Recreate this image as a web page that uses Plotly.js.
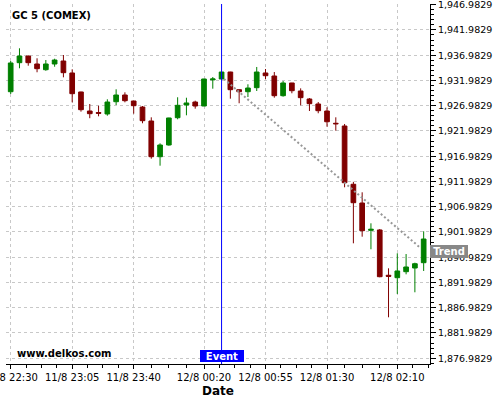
<!DOCTYPE html>
<html><head><meta charset="utf-8">
<script src="https://cdn.plot.ly/plotly-3.0.1.min.js"></script>
<style>html,body{margin:0;padding:0;background:#fff}#chart{width:500px;height:400px}</style>
</head><body><div id="chart"></div>
<script>
const times = ['22:30','22:35','22:40','22:45','22:50','22:55','23:00','23:05','23:10','23:15','23:20','23:25','23:30','23:35','23:40','23:45','23:50','23:55',
  '00:00','00:05','00:10','00:15','00:20','00:25','00:30','00:35','00:40','00:45','00:50','00:55','01:00','01:05','01:10','01:15','01:20','01:25',
  '01:30','01:35','01:40','01:45','01:50','01:55','02:00','02:05','02:10','02:15','02:20','02:25'];
const openV  = [1929.75,1935.50,1936.82,1935.24,1934.11,1935.24,1935.83,1933.46,1929.70,1925.93,1925.62,1925.34,1927.77,1929.10,1927.91,1926.72,1923.95,1916.88,
  1919.20,1924.60,1927.12,1927.71,1926.92,1932.10,1932.27,1933.65,1930.15,1929.75,1930.55,1933.46,1932.86,1928.96,1931.48,1929.89,1928.31,1927.32,
  1925.93,1923.50,1922.96,1911.42,1907.71,1902.30,1902.37,1893.40,1892.92,1894.11,1894.84,1895.89];
const highV  = [1935.83,1938.35,1936.90,1936.37,1936.03,1936.29,1937.02,1934.19,1929.75,1927.32,1926.98,1928.25,1930.23,1929.63,1927.95,1926.92,1924.68,1919.53,
  1924.60,1928.65,1928.56,1927.97,1932.30,1932.66,1933.70,1933.70,1930.20,1931.22,1934.65,1934.25,1933.65,1931.87,1931.50,1930.42,1928.50,1927.71,
  1926.67,1924.68,1923.36,1911.90,1909.83,1903.69,1902.56,1894.78,1897.75,1897.61,1895.89,1902.11];
const lowV   = [1929.30,1934.39,1934.90,1933.60,1933.90,1934.70,1932.60,1927.65,1925.80,1924.50,1924.88,1925.00,1927.12,1927.65,1925.40,1923.50,1916.49,1915.10,
  1919.06,1924.29,1925.08,1926.39,1926.90,1930.35,1932.20,1928.37,1927.46,1928.70,1929.89,1932.21,1928.57,1928.77,1929.44,1927.06,1925.93,1925.48,
  1922.82,1922.03,1910.82,1899.73,1901.04,1898.55,1893.00,1885.08,1889.70,1893.59,1890.03,1894.25];
const closeV = [1935.44,1936.82,1935.50,1934.31,1935.24,1936.03,1933.52,1929.36,1926.19,1925.40,1925.48,1927.71,1929.10,1927.97,1926.98,1924.01,1916.88,1919.20,
  1924.55,1927.06,1927.52,1926.92,1932.27,1932.27,1933.65,1930.15,1929.75,1930.48,1933.65,1932.92,1928.96,1931.48,1929.95,1928.57,1927.38,1925.99,
  1923.80,1923.40,1911.73,1907.77,1902.23,1902.50,1893.12,1893.20,1894.25,1895.04,1895.69,1900.58];
const tickTimes  = ['22:30','23:05','23:40','00:20','00:55','01:30','02:10'];
const tickLabels = ['11/8 22:30','11/8 23:05','11/8 23:40','12/8 00:20','12/8 00:55','12/8 01:30','12/8 02:10'];
const yTicks = [1876.9829,1881.9829,1886.9829,1891.9829,1896.9829,1901.9829,1906.9829,1911.9829,1916.9829,1921.9829,1926.9829,1931.9829,1936.9829,1941.9829,1946.9829];
const eventTime = '00:30';
const trendTimes = ['00:31:24','02:23:00'];
const trendValues = [1932.27, 1898.86];
const trendLabelValue = 1898.11;

function toDate(t){ return (t >= '12:00' ? '2023-08-11 ' : '2023-08-12 ') + (t.length === 5 ? t + ':00' : t); }
function toMs(s){ return Date.parse(s.replace(' ', 'T') + 'Z'); }
function msToStr(ms){ return new Date(ms).toISOString().replace('T',' ').slice(0,19); }

const x = times.map(toDate);
const majorMs = tickTimes.map(t => toMs(toDate(t)));
const minorX = [];
for (let i = 0; i < majorMs.length; i++) {
  const step = i < majorMs.length - 1 ? (majorMs[i+1] - majorMs[i]) / 4 : (majorMs[1] - majorMs[0]) / 4;
  for (let k = 1; k < 4; k++) minorX.push(msToStr(majorMs[i] + k * step));
}
minorX.unshift(msToStr(majorMs[0] - (majorMs[1]-majorMs[0])/4));

const traces = [
  {type:'scatter', mode:'lines', x: trendTimes.map(toDate), y: trendValues,
   line:{color:'#979797', width:2, dash:'2px,2.4px'}, hoverinfo:'skip'},
  {type:'candlestick', x: x, open: openV, high: highV, low: lowV, close: closeV,
   increasing:{line:{color:'#008000', width:1}, fillcolor:'#008000'},
   decreasing:{line:{color:'#800000', width:1}, fillcolor:'#800000'},
   whiskerwidth:0, hoverinfo:'skip'}
];

const gridC = '#c8c8c8';
const layout = {
  width:500, height:400,
  margin:{l:6, r:70, t:4, b:36, pad:0},
  paper_bgcolor:'#ffffff', plot_bgcolor:'#ffffff',
  showlegend:false, boxgap:0.24,
  font:{family:'DejaVu Sans, sans-serif', size:10, color:'#000'},
  xaxis:{type:'date', range:['2023-08-11 22:27:20','2023-08-12 02:28:36'],
    rangeslider:{visible:false}, tickmode:'array', tickvals: tickTimes.map(toDate), ticktext: tickLabels,
    ticks:'outside', ticklen:4, tickcolor:'#000', tickwidth:1, ticklabeloverflow:'allow',
    showline:true, linecolor:'#000', linewidth:1, mirror:false,
    showgrid:true, gridcolor:gridC, gridwidth:1, griddash:'3px,3px', zeroline:false, automargin:false,
    tickfont:{size:10},
    minor:{tickmode:'array', tickvals:minorX, ticks:'outside', ticklen:3, tickcolor:'#000', showgrid:false},
    title:{text:'<b>Date</b>', font:{size:12}, standoff:4}},
  yaxis:{side:'right', range:[1875.83,1947.12], tickmode:'array', tickvals:yTicks, tickformat:',.4f',
    ticks:'outside', ticklen:5, tickcolor:'#000', tickwidth:1, ticklabeloverflow:'allow',
    showline:true, linecolor:'#000', linewidth:1,
    showgrid:true, gridcolor:gridC, gridwidth:1, griddash:'3px,3px', zeroline:false, automargin:false,
    tickfont:{size:9.5},
    minor:{tickmode:'linear', tick0:1876.9829, dtick:1, ticks:'outside', ticklen:3, tickcolor:'#000', showgrid:false}},
  shapes:[{type:'line', xref:'x', yref:'paper', x0:toDate(eventTime), x1:toDate(eventTime), y0:0, y1:1,
    line:{color:'#0000ff', width:1}, layer:'above'}],
  annotations:[
    {xref:'paper', yref:'paper', x:0.0094, y:0.968, xanchor:'left', yanchor:'middle', showarrow:false,
     text:'<b>GC 5 (COMEX)</b>', font:{size:10, color:'#000'}},
    {xref:'paper', yref:'paper', x:0.022, y:0.028, xanchor:'left', yanchor:'middle', showarrow:false,
     text:'<b>www.delkos.com</b>', font:{size:10, color:'#000'}},
    {xref:'x', yref:'paper', x:toDate(eventTime), y:0, yanchor:'bottom', xanchor:'center', yshift:2, showarrow:false,
     text:'<b>Event</b>', bgcolor:'#0000ff', width:44, height:12, borderpad:0, borderwidth:0, font:{size:10, color:'#fff'}},
    {xref:'paper', yref:'y', x:1, y:trendLabelValue, xanchor:'left', yanchor:'middle', showarrow:false,
     text:'<b>Trend</b>', bgcolor:'#888888', width:38, height:13, borderpad:0, borderwidth:0, font:{size:10, color:'#fff'}}
  ]
};
Plotly.newPlot('chart', traces, layout, {staticPlot:true, displayModeBar:false});
</script></body></html>
